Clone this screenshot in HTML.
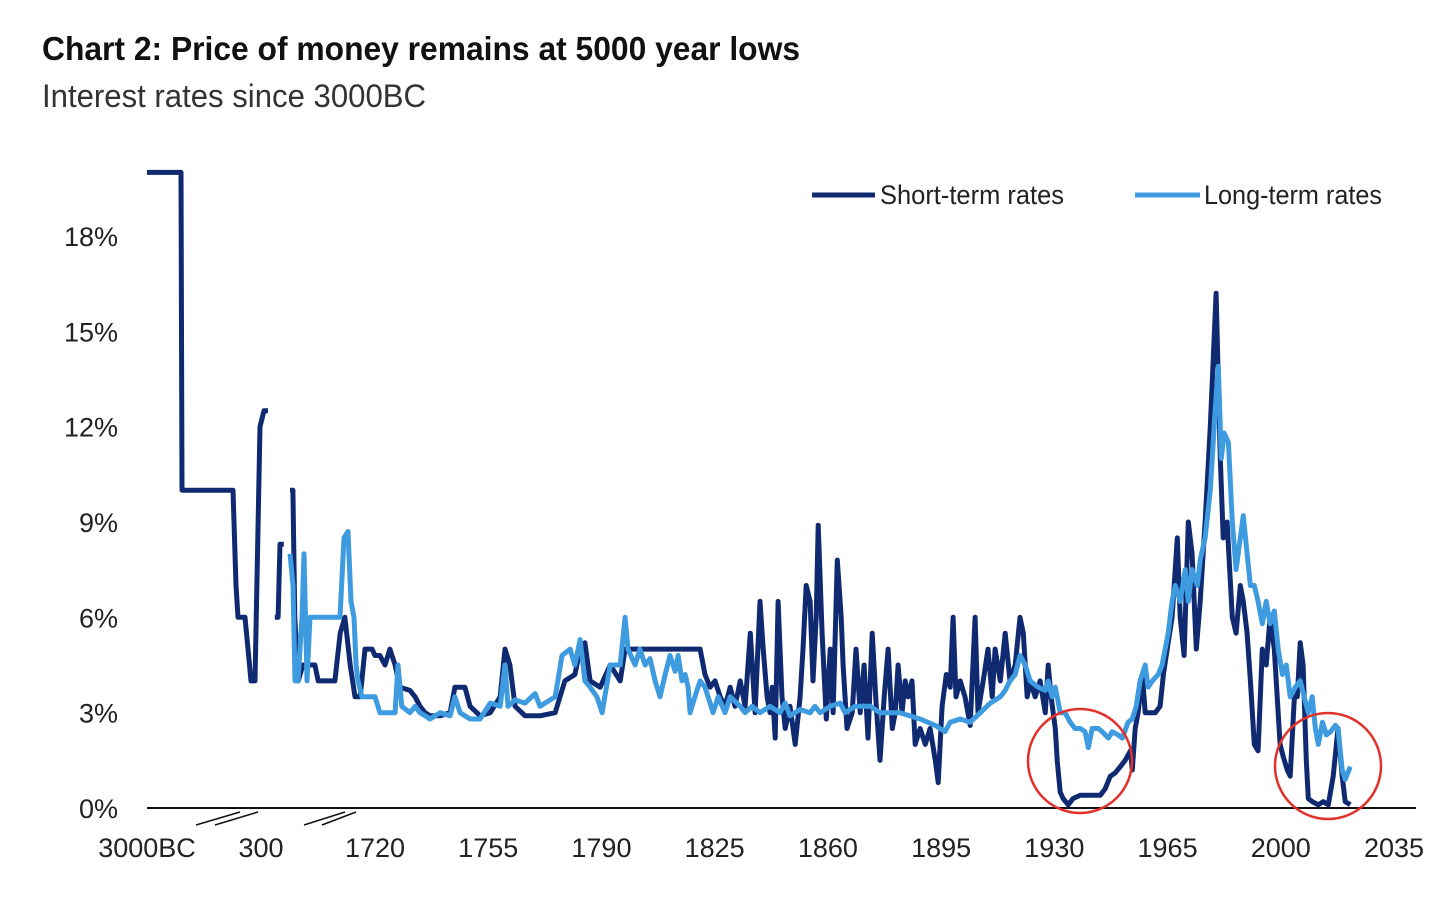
<!DOCTYPE html>
<html><head><meta charset="utf-8"><style>
html,body{margin:0;padding:0;background:#fff;}
svg{display:block;font-family:"Liberation Sans Narrow","Liberation Sans",sans-serif;}
</style></head><body>
<svg id="chart" width="1456" height="903" viewBox="0 0 1456 903">
<text x="42" y="60" font-size="33" font-weight="bold" fill="#111" textLength="758" lengthAdjust="spacingAndGlyphs">Chart 2: Price of money remains at 5000 year lows</text>
<text x="42" y="107" font-size="32" fill="#333" textLength="384" lengthAdjust="spacingAndGlyphs">Interest rates since 3000BC</text>
<g id="yaxis"></g>
<g id="xaxis"></g>
<g id="series"></g>
<g>
<line x1="812" y1="195" x2="875" y2="195" stroke="#0f2a70" stroke-width="5"/>
<text x="880" y="204" font-size="27" fill="#222" textLength="184" lengthAdjust="spacingAndGlyphs">Short-term rates</text>
<line x1="1135" y1="195" x2="1200" y2="195" stroke="#3f9be0" stroke-width="5"/>
<text x="1204" y="204" font-size="27" fill="#222" textLength="178" lengthAdjust="spacingAndGlyphs">Long-term rates</text>
</g>
<circle cx="1080" cy="761" r="52" fill="none" stroke="#e0322b" stroke-width="2.5"/>
<circle cx="1328" cy="766" r="53" fill="none" stroke="#e0322b" stroke-width="2.5"/>
</svg>
<script>
const yTicks = [0,3,6,9,12,15,18];
const xTickYears = [-3000,300,1720,1755,1790,1825,1860,1895,1930,1965,2000,2035];
const xTickLabels = ["3000BC","300","1720","1755","1790","1825","1860","1895","1930","1965","2000","2035"];
// short-term rates: null breaks the line
const shortYears = [-3000,-1756,-1720,147,256,330,586,805,951,1134,1281,1427,null,
1510,1517,1521,1529,null,
1542,1548,1552,1559,1569,1594,1601,1622,1636,1647,1657,1668,1678,1689,1699,1714,1720,
1721.5,1723.1,1724.6,1726.2,1727.7,1730.8,1732.4,1733.9,1735.5,1737.0,1740.1,1743.2,1744.7,1747.8,1749.4,1752.5,1755.6,1758.7,1760.2,1761.7,1763.3,1766.4,1771.0,1775.7,1777.2,1778.7,1781.8,1783.4,1784.9,1786.5,1789.6,1792.7,1795.8,1797.3,1800.4,1820.5,1822.0,1823.6,1825.1,1826.7,1828.2,1829.8,1831.3,1832.9,1834.4,1836.0,1837.5,1839.0,1840.0,1841.2,1842.1,1842.8,1843.7,1844.6,1845.8,1846.8,1848.3,1849.9,1851.4,1852.3,1853.3,1854.5,1855.4,1856.4,1857.0,1858.2,1859.5,1860.7,1861.6,1862.9,1864.1,1864.7,1865.9,1867.5,1868.7,1870.0,1871.2,1872.4,1873.7,1874.9,1876.1,1877.4,1878.6,1879.9,1880.8,1881.7,1882.9,1883.9,1884.8,1886.0,1887.0,1888.5,1890.1,1891.6,1893.2,1894.1,1895.3,1896.6,1897.8,1898.7,1899.6,1900.9,1902.4,1904.0,1905.5,1906.4,1908.0,1909.5,1910.8,1911.7,1913.3,1914.8,1916.3,1917.9,1919.4,1920.4,1921.6,1922.5,1924.1,1925.6,1927.2,1928.1,1929.0,1930.3,1930.9,1931.8,1932.7,1934.3,1935.8,1938.0,1944.2,1945.7,1947.3,1948.8,1950.4,1951.9,1953.5,1954.1,1955.0,1955.9,1957.2,1958.1,1959.6,1961.2,1962.7,1963.7,1964.9,1966.4,1968.0,1968.9,1970.1,1971.4,1972.6,1973.9,1975.1,1976.6,1978.2,1980.0,1981.3,1982.2,1983.4,1985.0,1986.2,1987.5,1988.4,1989.6,1990.6,1991.8,1993.0,1994.3,1995.5,1996.7,1998.0,1998.9,1999.8,2000.8,2002.0,2002.9,2004.2,2005.1,2006.0,2006.9,2007.9,2008.5,2009.7,2011.6,2013.1,2014.7,2016.2,2017.7,2019.0,2019.9,2021.5];
const shortValues = [20,20,10,10,7,6,6,4,4,12,12.5,12.5,null,
6,6,8.3,8.3,null,
10,10,6,4,4.5,4.5,4,4,4,5.5,6,4.5,3.5,3.5,5,5,4.8,
4.8,4.5,5,4.5,3.8,3.7,3.5,3.2,3.0,2.9,2.9,3.0,3.8,3.8,3.2,2.9,3.0,3.5,5,4.5,3.2,2.9,2.9,3.0,3.5,4,4.2,5,5.2,4,3.8,4.5,4,5,5,5,4.2,3.8,4,3.5,3.2,3.8,3.2,4,3.2,5.5,3,6.5,5,3.5,3,3.8,2.2,6.5,3.5,2.5,3.2,2,3.5,5,7,6.5,4,6,8.9,5.5,2.8,5,3,7.8,6.0,4.5,2.5,3,5,3,4.5,2.2,5.5,3.3,1.5,3.5,5,2.5,3,4.5,3,4,3.5,4,2,2.5,2,2.5,1.5,0.8,3.2,4.2,3.8,6,3.5,4,3.5,2.6,6,3,4,5,3.5,5,4,5.5,4,4.5,6,5.5,3.5,4,3.5,4,3,4.5,3.5,2.5,1.5,0.5,0.3,0.1,0.3,0.4,0.4,0.6,1,1.1,1.3,1.5,1.8,1.2,2.5,3,4.2,3,3,3,3.2,4.2,5,6,8.5,6,4.8,9,8,5,6.5,9,12,16.2,11,8.5,9,6,5.5,7,6.5,5.5,4,2,1.8,5,4.5,6,5,3.5,2,1.6,1.2,1.0,3.5,3.5,5.2,4.5,1.5,0.3,0.2,0.1,0.2,0.1,1,2.5,1,0.2,0.1];
const longYears = [1541.9,1548.2,1552.4,1558.7,1567.1,1571.3,1577.6,1583.8,1646.7,1655.1,1663.5,1669.8,1676.1,1680.3,1684.4,1692.8,1709.6,1720,
1721.5,1726.2,1727.1,1728.3,1730.8,1732.4,1733.9,1735.5,1737.0,1740.1,1743.2,1744.7,1746.3,1749.4,1752.5,1755.6,1758.7,1760.2,1761.1,1763.3,1766.4,1769.5,1771.0,1775.7,1777.8,1780.3,1781.8,1783.4,1784.9,1786.5,1788.6,1790.2,1792.7,1794.2,1795.8,1797.3,1798.2,1800.4,1801.9,1803.5,1805.0,1806.6,1808.1,1809.7,1811.2,1812.8,1813.7,1814.9,1815.9,1816.8,1817.4,1818.9,1820.5,1822.0,1823.6,1824.5,1826.1,1828.2,1829.8,1832.9,1834.4,1836.6,1839.0,1842.1,1845.2,1846.8,1848.3,1851.4,1854.5,1856.0,1857.6,1860.7,1863.8,1865.3,1868.4,1873.1,1876.1,1882.3,1888.5,1893.2,1896.2,1897.8,1900.9,1904.0,1907.1,1910.2,1913.3,1914.8,1916.3,1917.9,1919.4,1921.0,1922.5,1925.0,1927.2,1928.1,1929.3,1930.3,1931.8,1933.3,1934.9,1936.4,1938.0,1939.5,1940.5,1941.7,1943.6,1944.8,1946.7,1947.9,1949.7,1951.0,1952.8,1954.1,1955.3,1956.5,1958.1,1959.0,1960.3,1962.1,1963.3,1965.2,1966.4,1967.4,1968.9,1970.5,1971.4,1972.6,1974.2,1975.1,1976.6,1978.2,1979.7,1980.7,1981.6,1982.5,1983.8,1985.0,1986.2,1987.5,1988.4,1989.6,1990.6,1991.8,1993.0,1994.3,1995.5,1996.7,1998.0,1999.2,2000.5,2001.7,2002.9,2004.5,2006.0,2007.2,2008.5,2009.7,2010.7,2011.6,2012.9,2014.1,2015.4,2016.9,2017.7,2019.0,2019.9,2021.5];
const longValues = [8,7,4,4,6,8,4,6,6,8.5,8.7,6.5,6,4.5,4,3.5,3.5,3.5,
3,3,4.5,3.2,3.0,3.2,3.0,2.9,2.8,3.0,2.9,3.5,3.0,2.8,2.8,3.3,3.2,4.5,3.2,3.4,3.3,3.6,3.2,3.5,4.8,5.0,4.5,5.3,4.0,3.8,3.5,3.0,4.5,4.5,4.5,6.0,5.0,4.5,5.0,4.5,4.7,4.0,3.5,4.2,4.8,4.3,4.8,4.0,4.2,3.8,3.0,3.5,4.0,3.8,3.3,3.0,3.5,3.0,3.5,3.2,3.0,3.2,3.0,3.2,3.0,3.3,2.9,3.1,3.0,3.2,3.0,3.2,3.3,3.0,3.2,3.2,3.0,3.0,2.8,2.6,2.4,2.7,2.8,2.7,3.0,3.3,3.5,3.7,4.0,4.2,4.8,4.5,4.0,3.8,3.7,4.0,3.5,3.8,3.0,3.0,2.7,2.5,2.5,2.4,1.9,2.5,2.5,2.4,2.2,2.4,2.3,2.2,2.7,2.8,3.2,4.0,4.5,3.8,4.0,4.2,4.5,5.5,6.5,7.0,6.5,7.5,6.5,7.5,7.0,7.8,8.5,10,12.5,13.9,11,11.8,11.5,9,7.5,8.5,9.2,8,7,7,6.5,5.8,6.5,5.8,6.2,5.0,4.2,4.5,3.5,3.8,4.0,3.5,3.0,3.5,2.5,2.0,2.7,2.3,2.4,2.6,2.5,1.2,0.9,1.3];

const NS = "http://www.w3.org/2000/svg";
const Y0 = 808, PX_PER_PCT = 31.78;
function yScale(v){ return Y0 - v*PX_PER_PCT; }
const xAnchors = [[-3000,147],[1500,270],[1720,375],[2035,1394]];
function xScale(yr){
  for(let i=0;i<xAnchors.length-1;i++){
    const a=xAnchors[i], b=xAnchors[i+1];
    if(yr<=b[0] || i===xAnchors.length-2){
      return a[1]+(yr-a[0])*(b[1]-a[1])/(b[0]-a[0]);
    }
  }
}
function tickX(yr){ return yr===300 ? 261 : xScale(yr); }

const yG = document.getElementById('yaxis');
yTicks.forEach(t=>{
  const tx=document.createElementNS(NS,'text');
  tx.setAttribute('x',118); tx.setAttribute('y',yScale(t)+10);
  tx.setAttribute('text-anchor','end'); tx.setAttribute('font-size','27'); tx.setAttribute('fill','#222');
  
  
  tx.textContent=t+'%';
  yG.appendChild(tx);
});
const xG = document.getElementById('xaxis');
const base=document.createElementNS(NS,'line');
base.setAttribute('x1',147); base.setAttribute('x2',1416); base.setAttribute('y1',Y0); base.setAttribute('y2',Y0);
base.setAttribute('stroke','#111'); base.setAttribute('stroke-width','2');


xG.appendChild(base);
[[196,825,240,812],[215,825,258,812],[304,825,345,812],[322,825,356,812]].forEach(c=>{
  const l=document.createElementNS(NS,'line');
  l.setAttribute('x1',c[0]);l.setAttribute('y1',c[1]);l.setAttribute('x2',c[2]);l.setAttribute('y2',c[3]);
  l.setAttribute('stroke','#111');l.setAttribute('stroke-width','1.5');
  
  
  xG.appendChild(l);
});
xTickYears.forEach((yr,i)=>{
  const tx=document.createElementNS(NS,'text');
  tx.setAttribute('x',tickX(yr)); tx.setAttribute('y',857);
  tx.setAttribute('text-anchor','middle'); tx.setAttribute('font-size','27'); tx.setAttribute('fill','#222');
  
  
  tx.textContent=xTickLabels[i];
  xG.appendChild(tx);
});
function pathFrom(years, vals){
  let d='', pen=false;
  for(let i=0;i<years.length;i++){
    if(years[i]===null||vals[i]===null){pen=false;continue;}
    d+=(pen?'L':'M')+xScale(years[i]).toFixed(1)+','+yScale(vals[i]).toFixed(1);
    pen=true;
  }
  return d;
}
const sG=document.getElementById('series');
const sp=document.createElementNS(NS,'path');
sp.setAttribute('d',pathFrom(shortYears,shortValues));
sp.setAttribute('fill','none');sp.setAttribute('stroke','#0f2a70');sp.setAttribute('stroke-width','5');sp.setAttribute('stroke-linejoin','round');


sG.appendChild(sp);
const lp=document.createElementNS(NS,'path');
lp.setAttribute('d',pathFrom(longYears,longValues));
lp.setAttribute('fill','none');lp.setAttribute('stroke','#3f9be0');lp.setAttribute('stroke-width','5');lp.setAttribute('stroke-linejoin','round');


sG.appendChild(lp);
</script>
</body></html>
